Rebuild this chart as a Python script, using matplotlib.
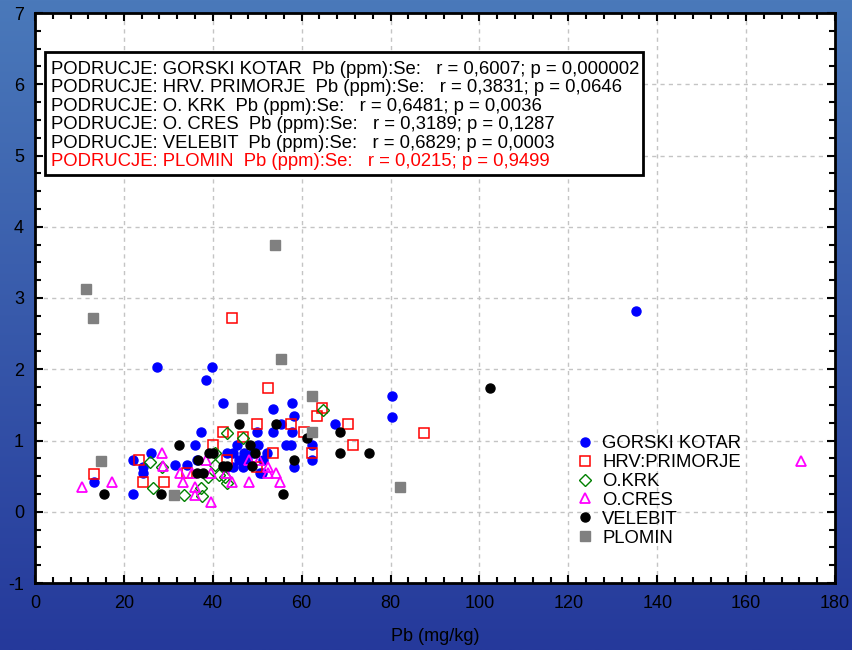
import numpy as np
import matplotlib as mpl
mpl.use('Agg')
import matplotlib.pyplot as plt
from matplotlib.patches import Rectangle

plt.rcParams['font.family'] = ['Liberation Sans', 'DejaVu Sans']
plt.rcParams['axes.unicode_minus'] = False

# Pb (mg/kg) vs Se, po podrucjima
gk_pb = [135.2, 27.4, 39.8, 38.5, 42.4, 57.8, 53.6, 58.3, 80.3, 80.3, 67.5, 37.3, 50.0, 53.5, 57.8, 55.4,
         62.4, 62.4, 58.3, 45.4, 43.1, 44.6, 50.1, 56.5, 57.6, 47.0, 49.1, 52.1, 51.2, 47.6, 44.6, 51.1,
         46.8, 36.0, 26.1, 22.0, 24.4, 24.4, 31.4, 34.3, 13.2, 22.0, 36.4, 45.8, 50.6, 43.1]
gk_se = [2.82, 2.03, 2.03, 1.85, 1.52, 1.52, 1.44, 1.34, 1.62, 1.33, 1.23, 1.12, 1.12, 1.12, 1.12, 1.23,
         0.94, 0.73, 0.63, 0.94, 0.82, 0.82, 0.94, 0.94, 0.94, 0.82, 0.82, 0.82, 0.73, 0.73, 0.63, 0.54,
         0.63, 0.94, 0.83, 0.72, 0.63, 0.54, 0.65, 0.65, 0.42, 0.25, 0.72, 0.73, 0.54, 0.63]

hp_pb = [44.3, 52.4, 87.5, 70.4, 64.6, 63.5, 71.6, 50.0, 57.6, 60.5, 62.3, 53.5, 46.9, 42.4, 40.1, 43.1,
         23.3, 13.3, 24.4, 29.1, 34.3, 49.9]
hp_se = [2.72, 1.73, 1.11, 1.23, 1.46, 1.34, 0.94, 1.23, 1.23, 1.12, 0.83, 0.83, 1.05, 1.12, 0.94, 0.73,
         0.72, 0.53, 0.42, 0.42, 0.54, 0.63]

kr_pb = [64.9, 43.1, 46.7, 40.5, 40.5, 41.5, 42.8, 43.1, 37.5, 37.3, 25.8, 28.5, 26.5, 33.5, 39.0]
kr_se = [1.43, 1.10, 1.03, 0.82, 0.65, 0.52, 0.49, 0.41, 0.22, 0.33, 0.70, 0.63, 0.33, 0.23, 0.49]

cr_pb = [172.4, 10.5, 17.4, 28.5, 28.9, 32.6, 33.2, 36.0, 36.0, 39.5, 35.3, 39.5, 42.9, 44.3, 48.2, 48.2,
         50.3, 52.5, 52.5, 54.2, 55.1, 38.5]
cr_se = [0.71, 0.35, 0.42, 0.82, 0.64, 0.54, 0.42, 0.35, 0.24, 0.13, 0.54, 0.54, 0.54, 0.42, 0.73, 0.42,
         0.73, 0.63, 0.54, 0.54, 0.42, 0.72]

ve_pb = [102.4, 15.6, 28.4, 32.5, 46.0, 48.4, 49.5, 48.9, 36.7, 36.4, 37.9, 39.2, 40.1, 42.4, 43.1, 54.2,
         61.1, 68.6, 68.6, 75.2, 58.3, 55.9]
ve_se = [1.73, 0.25, 0.25, 0.93, 1.23, 0.93, 0.83, 0.64, 0.72, 0.54, 0.54, 0.83, 0.83, 0.64, 0.64, 1.23,
         1.04, 1.12, 0.83, 0.83, 0.72, 0.25]

pl_pb = [11.5, 13.1, 54.0, 55.4, 46.6, 62.3, 62.3, 82.1, 14.9, 31.3]
pl_se = [3.12, 2.72, 3.74, 2.14, 1.45, 1.62, 1.12, 0.35, 0.71, 0.23]

stat_lines = [
    "PODRUCJE: GORSKI KOTAR  Pb (ppm):Se:   r = 0,6007; p = 0,000002",
    "PODRUCJE: HRV. PRIMORJE  Pb (ppm):Se:   r = 0,3831; p = 0,0646",
    "PODRUCJE: O. KRK  Pb (ppm):Se:   r = 0,6481; p = 0,0036",
    "PODRUCJE: O. CRES  Pb (ppm):Se:   r = 0,3189; p = 0,1287",
    "PODRUCJE: VELEBIT  Pb (ppm):Se:   r = 0,6829; p = 0,0003",
    "PODRUCJE: PLOMIN  Pb (ppm):Se:   r = 0,0215; p = 0,9499",
]

fig = plt.figure(figsize=(8.52, 6.5), dpi=100)

# plava pozadina s gradijentom
bg = fig.add_axes([0, 0, 1, 1], zorder=-10)
grad = np.linspace(0, 1, 256).reshape(-1, 1)
cmap = mpl.colors.LinearSegmentedColormap.from_list('bg', ['#4a79ba', '#25399b'])
bg.imshow(grad, aspect='auto', cmap=cmap, extent=[0, 1, 0, 1])
bg.axis('off')

ax = fig.add_axes([35 / 852, 67 / 650, 800 / 852, 570 / 650])
ax.set_facecolor('white')

ax.plot(gk_pb, gk_se, 'o', color='#0000ff', ms=6.5, ls='none', label='GORSKI KOTAR')
ax.plot(hp_pb, hp_se, 's', mfc='none', mec='#ff0000', mew=1.1, ms=6.5, ls='none', label='HRV:PRIMORJE')
ax.plot(kr_pb, kr_se, 'D', mfc='none', mec='#008000', mew=1.0, ms=6, ls='none', label='O.KRK')
ax.plot(cr_pb, cr_se, '^', mfc='none', mec='#ff00ff', mew=1.3, ms=7, ls='none', label='O.CRES')
ax.plot(ve_pb, ve_se, 'o', color='black', ms=6.5, ls='none', label='VELEBIT')
ax.plot(pl_pb, pl_se, 's', color='#808080', ms=6.5, ls='none', label='PLOMIN')

ax.set_xlim(0, 180)
ax.set_ylim(-1, 7)
ax.set_xticks(np.arange(0, 181, 20))
ax.set_yticks(np.arange(-1, 8, 1))
ax.xaxis.set_minor_locator(mpl.ticker.MultipleLocator(4))
ax.yaxis.set_minor_locator(mpl.ticker.MultipleLocator(0.25))
ax.tick_params(which='both', direction='in', top=True, right=True, labelsize=13, width=1.5)
ax.tick_params(axis='x', which='major', pad=9)
ax.tick_params(axis='y', which='major', pad=8)
ax.tick_params(which='major', length=6)
ax.tick_params(which='minor', length=4)
ax.grid(True, which='major', color='#c4c4c4', ls=(0, (3, 3)), lw=1)
ax.set_axisbelow(True)
for s in ax.spines.values():
    s.set_linewidth(2)

ax.set_xlabel('Pb (mg/kg)', fontsize=13, labelpad=11)

# okvir sa statistikom
ax.add_patch(Rectangle((0.0125, 0.716), 0.748, 0.216, transform=ax.transAxes,
                       facecolor='white', edgecolor='black', lw=2, zorder=5))
for i, line in enumerate(stat_lines):
    col = 'red' if i == len(stat_lines) - 1 else 'black'
    ax.text(0.02, (583 - 69 - i * 18.6) / 570, line, transform=ax.transAxes,
            fontsize=13.3, color=col, va='center', ha='left', zorder=6)

ax.legend(loc='upper left', bbox_to_anchor=(0.665, 0.272), frameon=False, fontsize=13.3,
          handletextpad=0.3, labelspacing=0.1, borderaxespad=0, handlelength=1.2)

plt.savefig('out.png', dpi=100)
